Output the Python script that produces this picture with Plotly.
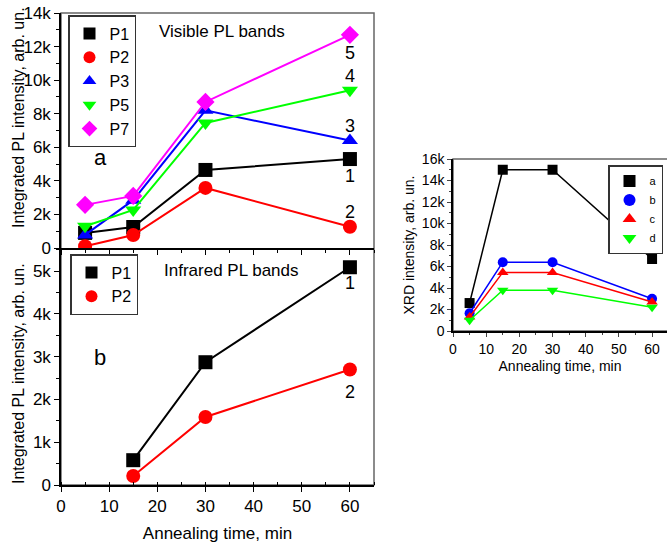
import plotly.graph_objects as go

# ---- data ----
time_vis = [5, 15, 30, 60]
vis_P1 = [900, 1250, 4650, 5300]
vis_P2 = [100, 770, 3580, 1270]
vis_P3 = [780, 2850, 8200, 6400]
vis_P5 = [1300, 2270, 7450, 9400]
vis_P7 = [2570, 3100, 8700, 12700]

time_ir = [15, 30, 60]
ir_P1 = [580, 2870, 5090]
ir_P2 = [210, 1590, 2700]

time_xrd = [5, 15, 30, 60]
xrd_a = [2600, 15000, 15000, 6700]
xrd_b = [1650, 6400, 6400, 3000]
xrd_c = [1300, 5450, 5450, 2700]
xrd_d = [1000, 3800, 3800, 2200]

vis_names = ["P1", "P2", "P3", "P5", "P7"]
ir_names = ["P1", "P2"]
xrd_names = ["a", "b", "c", "d"]
vis_curve_labels = ["1", "2", "3", "4", "5"]
vis_label_y = [4300, 2150, 7250, 10250, 11600]
ir_curve_labels = ["1", "2"]
ir_label_y = [4720, 2170]

colors = ["#000000", "#ff0000", "#0000ff", "#00ff00", "#ff00ff"]
symbols = ["square", "circle", "triangle-up", "triangle-down", "diamond"]
xrd_colors = ["#000000", "#0000ff", "#ff0000", "#00ff00"]
xrd_symbols = ["square", "circle", "triangle-up", "triangle-down"]

FONT = "Liberation Sans, Arial, sans-serif"
PL_TITLE = "Integrated PL intensity, arb. un."

fig = go.Figure()

# top panel (visible)
for name, ys, c, s in zip(vis_names, [vis_P1, vis_P2, vis_P3, vis_P5, vis_P7], colors, symbols):
    fig.add_trace(go.Scatter(x=time_vis, y=ys, mode="lines+markers", showlegend=False,
                             line=dict(color=c, width=2),
                             marker=dict(symbol=s, size=14, color=c),
                             xaxis="x", yaxis="y"))
    fig.add_trace(go.Scatter(x=[None], y=[None], mode="markers", name=name, legend="legend",
                             marker=dict(symbol=s, size=14, color=c), xaxis="x", yaxis="y"))

# bottom panel (infrared)
for name, ys, c, s in zip(ir_names, [ir_P1, ir_P2], colors, symbols):
    fig.add_trace(go.Scatter(x=time_ir, y=ys, mode="lines+markers", showlegend=False,
                             line=dict(color=c, width=2),
                             marker=dict(symbol=s, size=14, color=c),
                             xaxis="x2", yaxis="y2"))
    fig.add_trace(go.Scatter(x=[None], y=[None], mode="markers", name=name, legend="legend2",
                             marker=dict(symbol=s, size=14, color=c), xaxis="x2", yaxis="y2"))

# inset (XRD)
for name, ys, c, s in zip(xrd_names, [xrd_a, xrd_b, xrd_c, xrd_d], xrd_colors, xrd_symbols):
    fig.add_trace(go.Scatter(x=time_xrd, y=ys, mode="lines+markers", showlegend=False,
                             line=dict(color=c, width=1.5),
                             marker=dict(symbol=s, size=10, color=c),
                             xaxis="x3", yaxis="y3"))
    fig.add_trace(go.Scatter(x=[None], y=[None], mode="markers", name=name, legend="legend3",
                             marker=dict(symbol=s, size=10, color=c), xaxis="x3", yaxis="y3"))

annotations = []
for t, yv in zip(vis_curve_labels, vis_label_y):
    annotations.append(dict(x=60, y=yv, xref="x", yref="y", text=t, showarrow=False,
                            font=dict(size=18, color="black")))
for t, yv in zip(ir_curve_labels, ir_label_y):
    annotations.append(dict(x=60, y=yv, xref="x2", yref="y2", text=t, showarrow=False,
                            font=dict(size=18, color="black")))
annotations += [
    dict(x=20, y=12870, xref="x", yref="y", text="Visible PL bands", showarrow=False,
         xanchor="left", font=dict(size=17, color="black")),
    dict(x=8.1, y=5400, xref="x", yref="y", text="a", showarrow=False,
         font=dict(size=22, color="black")),
    dict(x=21, y=5020, xref="x2", yref="y2", text="Infrared PL bands", showarrow=False,
         xanchor="left", font=dict(size=17, color="black")),
    dict(x=8.1, y=2970, xref="x2", yref="y2", text="b", showarrow=False,
         font=dict(size=22, color="black")),
    # y-axis titles of the two PL panels
    dict(x=18 / 667, y=1 - 118 / 543, xref="paper", yref="paper", text=PL_TITLE,
         textangle=-90, showarrow=False, xanchor="center", yanchor="middle",
         font=dict(size=16, color="black")),
    dict(x=18 / 667, y=1 - 374 / 543, xref="paper", yref="paper", text=PL_TITLE,
         textangle=-90, showarrow=False, xanchor="center", yanchor="middle",
         font=dict(size=16, color="black")),
]

main_dom_x = [61 / 667, 374 / 667]
top_dom_y = [1 - 248 / 543, 1 - 13 / 543]
bot_dom_y = [1 - 485 / 543, 1 - 248 / 543]
ins_dom_x = [453 / 667, 1.0]
ins_dom_y = [1 - 331 / 543, 1 - 159 / 543]

shapes = [
    dict(type="rect", xref="paper", yref="paper", x0=main_dom_x[0], x1=main_dom_x[1],
         y0=bot_dom_y[0], y1=top_dom_y[1], line=dict(color="#666", width=1.5), layer="below"),
    dict(type="rect", xref="paper", yref="paper", x0=ins_dom_x[0], x1=1.2,
         y0=ins_dom_y[0], y1=ins_dom_y[1], line=dict(color="#666", width=1.5), layer="below"),
]

axcommon = dict(showgrid=False, zeroline=False, showline=True, linecolor="black", linewidth=1.5,
                ticks="outside", tickcolor="black", ticklen=5, tickwidth=1, automargin=False,
                tickfont=dict(size=17, color="black"))
inscommon = dict(showgrid=False, zeroline=False, showline=True, linecolor="black", linewidth=1.5,
                 ticks="outside", ticklen=4, automargin=False,
                 tickfont=dict(size=14, color="black"))

fig.update_layout(
    width=667, height=543,
    margin=dict(l=0, r=0, t=0, b=0, autoexpand=False),
    paper_bgcolor="white", plot_bgcolor="white",
    font=dict(family=FONT, color="black"),
    annotations=annotations, shapes=shapes,
    xaxis=dict(**axcommon, domain=main_dom_x, range=[0, 65], anchor="y", dtick=10,
               showticklabels=False, minor=dict(dtick=5, ticks="outside", ticklen=3)),
    yaxis=dict(**axcommon, domain=top_dom_y, range=[0, 14000], anchor="x", dtick=2000,
               tickformat="~s", minor=dict(dtick=1000, ticks="outside", ticklen=3)),
    xaxis2=dict(**axcommon, domain=main_dom_x, range=[0, 65], anchor="y2", dtick=10,
                minor=dict(dtick=5, ticks="inside", ticklen=3),
                title=dict(text="Annealing time, min", font=dict(size=17), standoff=12)),
    yaxis2=dict(**axcommon, domain=bot_dom_y, range=[0, 5540], anchor="x2", dtick=1000,
                tickformat="~s", minor=dict(dtick=500, ticks="outside", ticklen=3)),
    xaxis3=dict(**inscommon, domain=ins_dom_x, range=[0, 64.5], anchor="y3", dtick=10,
                minor=dict(dtick=5, ticks="outside", ticklen=2),
                title=dict(text="Annealing time, min", font=dict(size=14), standoff=6)),
    yaxis3=dict(**inscommon, domain=ins_dom_y, range=[0, 16000], anchor="x3", dtick=2000,
                tickformat="~s", minor=dict(dtick=1000, ticks="outside", ticklen=2),
                title=dict(text="XRD intensity, arb. un.", font=dict(size=14), standoff=4)),
    legend=dict(x=68 / 667, y=1 - 15 / 543, xanchor="left", yanchor="top",
                bgcolor="white", bordercolor="#333", borderwidth=1.5,
                font=dict(size=16), itemsizing="constant", itemwidth=30, tracegroupgap=0),
    legend2=dict(x=70 / 667, y=1 - 254 / 543, xanchor="left", yanchor="top",
                 bgcolor="white", bordercolor="#333", borderwidth=1.5,
                 font=dict(size=16), itemsizing="constant", itemwidth=30, tracegroupgap=0),
    legend3=dict(x=663 / 667, y=1 - 165 / 543, xanchor="right", yanchor="top",
                 bgcolor="white", bordercolor="#333", borderwidth=1.5,
                 font=dict(size=11), itemsizing="constant", itemwidth=30, tracegroupgap=0),
)

fig.write_html("out.html", config={"displayModeBar": False},
               post_script="document.body.style.margin='0';")
